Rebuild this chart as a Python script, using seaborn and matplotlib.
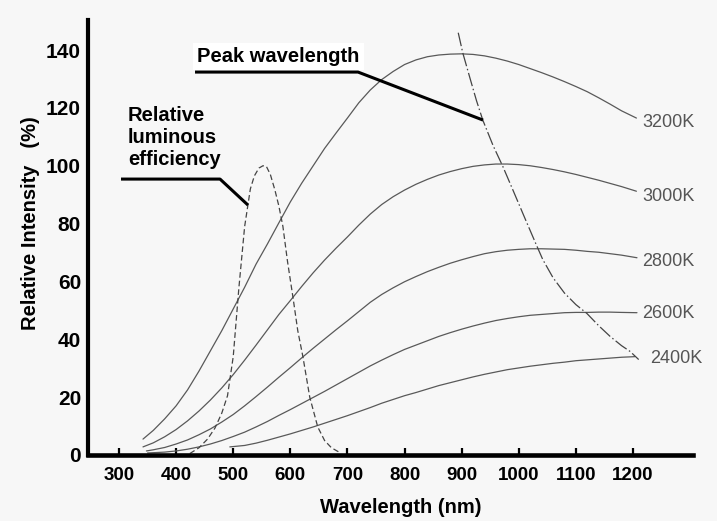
import matplotlib
matplotlib.use("Agg")
import matplotlib.pyplot as plt
import numpy as np
import pandas as pd
import seaborn as sns

# ---------------- data ----------------
wl_grid = [342, 360, 380, 400, 420, 440, 460, 480, 500, 520, 540, 560, 580, 600, 620,
           640, 660, 680, 700, 720, 740, 760, 780, 800, 820, 840, 860, 880, 900, 920,
           940, 960, 980, 1000, 1020, 1040, 1060, 1080, 1100, 1120, 1140, 1160, 1180, 1206]

wl_3200 = wl_grid
in_3200 = [5.5, 8.5, 12.5, 17, 22.5, 29, 36, 43, 50.5, 58, 66, 73, 80.3, 87.5, 94,
           100, 106, 111.3, 116.5, 121.8, 126.2, 129.8, 132.6, 135, 136.6, 137.7, 138.3,
           138.6, 138.7, 138.5, 138, 137.2, 136.2, 135, 133.6, 132.2, 130.7, 129.1,
           127.4, 125.6, 123.5, 121.3, 119, 116.5]

wl_3000 = wl_grid
in_3000 = [2.8, 4.2, 6.3, 8.8, 11.8, 15.2, 19, 23.2, 27.8, 32.8, 38, 43.3, 48.6, 53.4,
           58.3, 63, 67.4, 71.5, 75.4, 79.5, 83.3, 86.6, 89.3, 91.6, 93.6, 95.3, 96.8,
           98, 99, 99.8, 100.3, 100.6, 100.6, 100.4, 100, 99.4, 98.7, 97.9, 97, 96, 95,
           93.9, 92.8, 91.2]

wl_2800 = [348, 360, 380, 400, 420, 440, 460, 480, 500, 520, 540, 560, 580, 600, 620,
           640, 660, 680, 700, 720, 740, 760, 780, 800, 820, 840, 860, 880, 900, 920,
           940, 960, 980, 1000, 1020, 1040, 1060, 1080, 1100, 1120, 1140, 1160, 1180, 1207]
in_2800 = [1.4, 1.8, 2.6, 3.8, 5.2, 7, 9, 11.4, 14, 17, 20.2, 23.5, 26.9, 30.2, 33.6,
           36.9, 40.1, 43.3, 46.4, 49.6, 52.8, 55.5, 57.8, 59.9, 61.7, 63.4, 64.9, 66.3,
           67.5, 68.6, 69.6, 70.3, 70.8, 71.1, 71.3, 71.3, 71.2, 71.1, 70.8, 70.4, 70.1,
           69.6, 69.1, 68.2]

wl_2600 = [350, 360, 380, 400, 420, 440, 460, 480, 500, 520, 540, 560, 580, 600, 620,
           640, 660, 680, 700, 720, 740, 760, 780, 800, 820, 840, 860, 880, 900, 920,
           940, 960, 980, 1000, 1020, 1040, 1060, 1080, 1100, 1120, 1140, 1160, 1180, 1207]
in_2600 = [0.7, 0.8, 1.0, 1.4, 2.0, 2.8, 3.8, 5.0, 6.4, 7.9, 9.7, 11.6, 13.7, 15.7, 17.8,
           19.9, 22.0, 24.2, 26.4, 28.6, 30.8, 32.8, 34.7, 36.5, 38.0, 39.5, 41.0, 42.3,
           43.5, 44.6, 45.6, 46.5, 47.2, 47.8, 48.3, 48.6, 48.9, 49.2, 49.3, 49.3, 49.4,
           49.4, 49.3, 49.2]

wl_2400 = [494, 520, 540, 560, 580, 600, 620, 640, 660, 680, 700, 720, 740, 760, 780,
           800, 820, 840, 860, 880, 900, 920, 940, 960, 980, 1000, 1020, 1040, 1060,
           1080, 1100, 1120, 1140, 1160, 1180, 1203]
in_2400 = [2.8, 3.3, 4.1, 5.1, 6.2, 7.3, 8.5, 9.7, 11, 12.3, 13.6, 15, 16.4, 17.9, 19.2,
           20.5, 21.6, 22.8, 24, 25, 26, 27, 27.9, 28.7, 29.5, 30.1, 30.7, 31.2, 31.7,
           32.1, 32.6, 32.9, 33.2, 33.5, 33.8, 34]

# relative luminous efficiency (dashed)
wl_lum = [424, 440, 455, 468, 480, 490, 500, 510, 520, 530, 537, 545, 552, 558, 565,
          573, 580, 587, 595, 605, 613, 622, 634, 648, 660, 672, 687]
in_lum = [0.5, 2.5, 5.5, 9.3, 14.5, 20.5, 34, 58, 79, 92, 96.5, 99.2, 100, 99.8, 97,
          91.6, 86, 79, 67, 54, 43, 34, 20, 9.7, 5, 2.5, 0.8]

# peak wavelength locus (dash-dot)
wl_peak = [894, 902, 915, 926, 937, 955, 972, 990, 1010, 1030, 1042, 1060, 1080, 1100,
           1119, 1140, 1160, 1180, 1195, 1210]
in_peak = [146, 139, 130, 122.5, 115.8, 107, 99.8, 91.5, 82.2, 73, 67.6, 61.3, 56, 52,
           49, 44.7, 41, 37.8, 35.8, 33]

temps = ["3200K", "3000K", "2800K", "2600K", "2400K"]
curves_wl = [wl_3200, wl_3000, wl_2800, wl_2600, wl_2400]
curves_in = [in_3200, in_3000, in_2800, in_2600, in_2400]

x_ticks = [300, 400, 500, 600, 700, 800, 900, 1000, 1100, 1200]
y_ticks = [0, 20, 40, 60, 80, 100, 120, 140]

# ---------------- build table ----------------
rows = []
for t, w, v in zip(temps, curves_wl, curves_in):
    for a, b in zip(w, v):
        rows.append({"Wavelength": a, "Intensity": b, "Temp": t})
df = pd.DataFrame(rows)
df_lum = pd.DataFrame({"Wavelength": wl_lum, "Intensity": in_lum})
df_peak = pd.DataFrame({"Wavelength": wl_peak, "Intensity": in_peak})

# ---------------- style ----------------
sns.set_theme(style="white")
plt.rcParams["font.family"] = ["Liberation Sans", "DejaVu Sans"]

BG = "#f7f7f7"
CURVE = "#595959"

fig = plt.figure(figsize=(7.17, 5.21), dpi=100, facecolor=BG)
ax = fig.add_axes([88 / 717, 1 - 455 / 521, (693 - 88) / 717, (455 - 20) / 521])
ax.set_facecolor(BG)

sns.lineplot(data=df, x="Wavelength", y="Intensity", hue="Temp",
             palette={t: CURVE for t in temps}, linewidth=0.9, legend=False,
             ax=ax, estimator=None, sort=False)
sns.lineplot(data=df_lum, x="Wavelength", y="Intensity", color="#444444",
             linewidth=0.9, linestyle=(0, (4.5, 2.4)), ax=ax, estimator=None, sort=False)
sns.lineplot(data=df_peak, x="Wavelength", y="Intensity", color="#444444",
             linewidth=0.9, linestyle=(0, (11, 2.2, 1.2, 2.2)), ax=ax,
             estimator=None, sort=False)

ax.set_xlim(245.7, 1305.1)
ax.set_ylim(0, 150.4)
ax.set_xticks(x_ticks)
ax.set_yticks(y_ticks)
ax.set_xticklabels([str(v) for v in x_ticks], fontsize=13.5, fontweight="bold")
ax.set_yticklabels([str(v) for v in y_ticks], fontsize=15, fontweight="bold")
ax.tick_params(axis="x", direction="in", length=5, width=1.6, color="black", pad=9,
               labelcolor="black", bottom=True)
ax.tick_params(axis="y", length=0, pad=5, labelcolor="black")

for s in ["top", "right"]:
    ax.spines[s].set_visible(False)
for s in ["left", "bottom"]:
    ax.spines[s].set_color("black")
ax.spines["left"].set_linewidth(3)
ax.spines["bottom"].set_linewidth(3.3)

ax.set_xlabel("Wavelength (nm)", fontsize=14.5, fontweight="bold", color="black")
ax.xaxis.set_label_coords(0.517, -0.099)
ax.set_ylabel("Relative Intensity   (%)", fontsize=14.5, fontweight="bold", color="black")
ax.yaxis.set_label_coords(-0.080, 0.532)
ax.grid(False)

# temperature labels
lab_x = [1215.8, 1215.8, 1215.8, 1215.8, 1229.8]
lab_y = [113.3, 87.8, 65.3, 47.3, 31.7]
for t, lx, ly in zip(temps, lab_x, lab_y):
    ax.text(lx, ly, t, fontsize=13, color="#555555", ha="left", va="baseline")

# annotations
ax.text(436.6, 135.8, "Peak wavelength", fontsize=14.5, fontweight="bold",
        ha="left", va="baseline", color="black",
        bbox=dict(facecolor="white", edgecolor="none", pad=3))
ax.plot([433.1, 718.5, 937.4], [132.4, 132.4, 115.8], color="black", lw=2.2,
        solid_capstyle="butt")

ax.text(315.8, 120.6, "Relative\nluminous\nefficiency", fontsize=14.5,
        fontweight="bold", ha="left", va="top", color="black", linespacing=1.2)
ax.plot([303.5, 476.9, 525.9], [95.4, 95.4, 86.4], color="black", lw=2.2,
        solid_capstyle="butt")

fig.savefig("out.png", dpi=100, facecolor=BG)
